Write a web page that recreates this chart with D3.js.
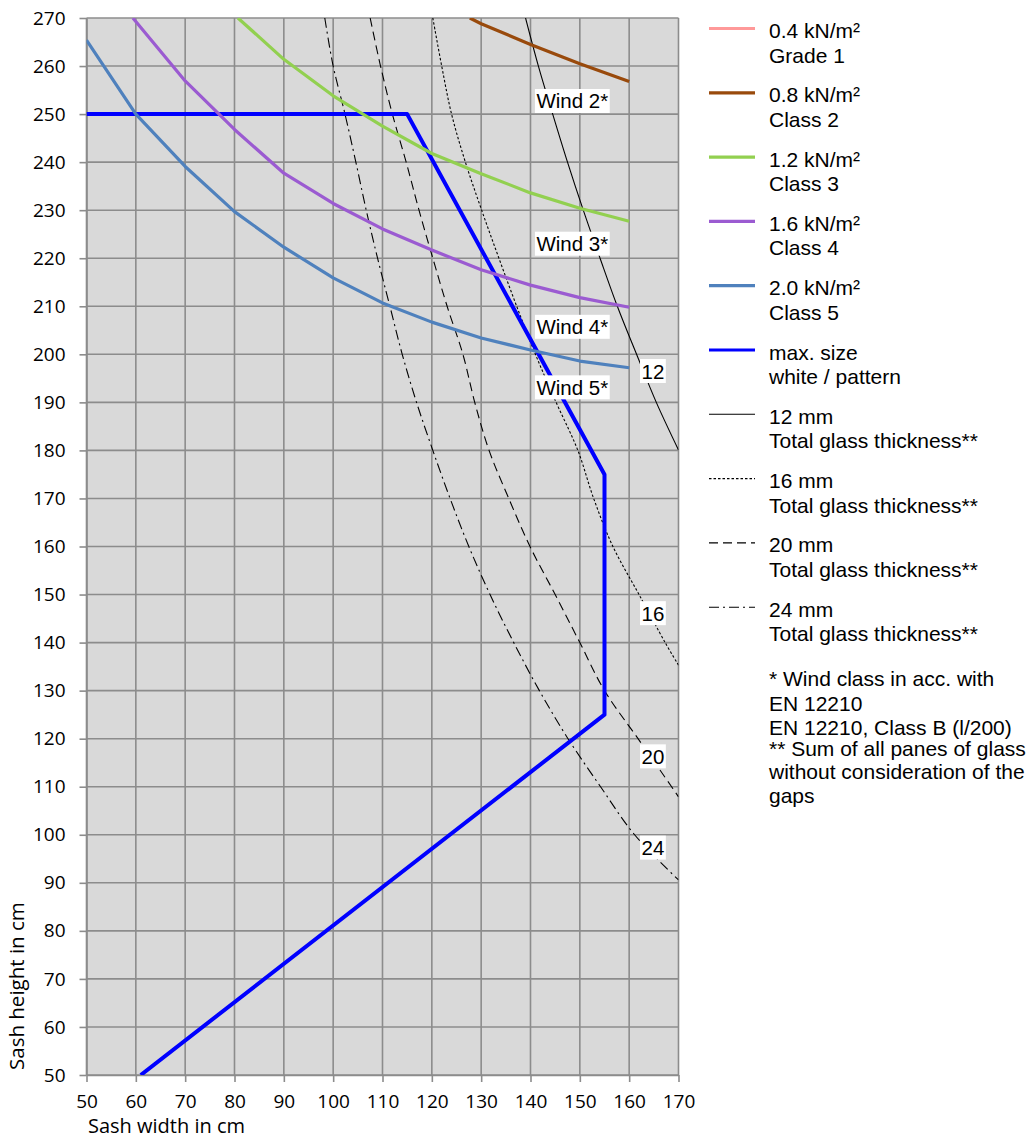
<!DOCTYPE html>
<html><head><meta charset="utf-8">
<script src="https://cdn.jsdelivr.net/npm/d3@7"></script>
<style>body{margin:0;background:#fff}svg{display:block}</style>
</head><body><svg id="c" width="1032" height="1138"></svg>
<script>
// ---------- data ----------
const xTicks = [50,60,70,80,90,100,110,120,130,140,150,160,170];
const yTicks = [50,60,70,80,90,100,110,120,130,140,150,160,170,180,190,200,210,220,230,240,250,260,270];
const xTitle = "Sash width in cm";
const yTitle = "Sash height in cm";

// wind load curves [width, height]
const grade1 = [];  // lies above the plotted range
const class2 = [[127.7,270],[130,268.8],[140,264.5],[150,260.5],[160,256.8]];
const class3 = [[80.7,270],[90,261.4],[100,253.8],[110,247.5],[120,241.8],[130,237.6],[140,233.6],[150,230.4],[160,227.7]];
const class4 = [[59.4,270],[70,256.9],[80,246.8],[90,237.7],[100,231.4],[110,226.1],[120,221.7],[130,217.6],[140,214.4],[150,211.8],[160,209.8]];
const class5 = [[50,265.4],[60,250],[70,239.1],[80,229.7],[90,222.3],[100,215.9],[110,210.7],[120,206.7],[130,203.4],[140,200.9],[150,198.6],[160,197.2]];
const maxSize = [[50,250],[115,250],[155,175],[155,125],[61,50]];

// glass thickness curves [width, height]
const glass12 = [[139,270],[141.6,260],[144.5,250],[147.5,240],[150.7,230],[154.1,220],[157.6,210],[161.5,200],[165.5,190],[170,180.1]];
const glass16 = [[120.2,270],[122,260],[124,250],[126.8,240],[130.1,230],[133.6,220],[137.2,210],[141,200],[145.2,190],[149.6,180],[152.8,170],[156.7,160],[162,150],[167.3,140],[170,135.3]];
const glass20 = [[107.5,270],[109.6,260],[112,250],[114.8,240],[117.4,230],[120.2,220],[123.1,210],[126.3,200],[128.7,190],[131.6,180],[135.6,170],[139.9,160],[145,150],[150,140],[155,130],[161.8,120],[168.6,110],[170,107.9]];
const glass24 = [[98.3,270],[100,260],[102.4,250],[104.6,240],[106.7,230],[109,220],[111.5,210],[114,200],[116.9,190],[120.2,180],[123.7,170],[127.5,160],[131.8,150],[136.6,140],[141.8,130],[147.6,120],[154.2,110],[161.1,100],[170,90.6]];

// annotations [text, width, height]
const windLabels = [["Wind 2*",140.9,252.7],["Wind 3*",140.9,223],["Wind 4*",140.9,205.7],["Wind 5*",140.9,193.1]];
const glassLabels = [["12",162.2,196.5],["16",162.2,146.1],["20",162.2,116.3],["24",162.2,97.3]];

const legendLabels = [
  ["0.4 kN/m²","Grade 1"],["0.8 kN/m²","Class 2"],["1.2 kN/m²","Class 3"],
  ["1.6 kN/m²","Class 4"],["2.0 kN/m²","Class 5"],["max. size","white / pattern"],
  ["12 mm","Total glass thickness**"],["16 mm","Total glass thickness**"],
  ["20 mm","Total glass thickness**"],["24 mm","Total glass thickness**"]
];
const footnotes = ["* Wind class in acc. with","EN 12210","EN 12210, Class B (l/200)","** Sum of all panes of glass","without consideration of the","gaps"];

// ---------- styles ----------
const seriesStyle = [
  {data:grade1, color:"#FF9999", w:3.2, dash:null, curve:d3.curveLinear},
  {data:class2, color:"#994A0C", w:3.2, dash:null, curve:d3.curveLinear},
  {data:class3, color:"#92D050", w:3.2, dash:null, curve:d3.curveLinear},
  {data:class4, color:"#9B5BD1", w:3.2, dash:null, curve:d3.curveLinear},
  {data:class5, color:"#4F81BD", w:3.2, dash:null, curve:d3.curveLinear},
  {data:maxSize, color:"#0000FF", w:4, dash:null, curve:d3.curveLinear},
  {data:glass12, color:"#000", w:1.1, dash:null, curve:d3.curveCatmullRom},
  {data:glass16, color:"#000", w:1.1, dash:"2.5,2", curve:d3.curveCatmullRom},
  {data:glass20, color:"#000", w:1.1, dash:"9,5", curve:d3.curveCatmullRom},
  {data:glass24, color:"#000", w:1.1, dash:"10,4,2,4", curve:d3.curveCatmullRom}
];

// ---------- chart ----------
const svg = d3.select("#c");
const L=86.5, R=678.5, T=18, B=1075;
const x = d3.scaleLinear().domain([50,170]).range([L,R]);
const y = d3.scaleLinear().domain([50,270]).range([B,T]);

svg.append("defs").append("clipPath").attr("id","clip")
  .append("rect").attr("x",L).attr("y",T).attr("width",R-L).attr("height",B-T);

svg.append("rect").attr("x",L).attr("y",T).attr("width",R-L).attr("height",B-T).attr("fill","#D9D9D9");

const grid = svg.append("g").attr("stroke","#8C8C8C").attr("stroke-width",1.6);
grid.selectAll("line.v").data(xTicks).join("line").attr("class","v")
  .attr("x1",d=>x(d)).attr("x2",d=>x(d)).attr("y1",T).attr("y2",B);
grid.selectAll("line.h").data(yTicks).join("line").attr("class","h")
  .attr("y1",d=>y(d)).attr("y2",d=>y(d)).attr("x1",L).attr("x2",R);

const fontAxis = "'Open Sans', sans-serif";
const fontTxt = "'Liberation Sans', Arial, sans-serif";

const ax = svg.append("g").attr("transform",`translate(0,${B})`)
  .call(d3.axisBottom(x).tickValues(xTicks).tickSize(7).tickSizeOuter(0).tickPadding(13));
const ay = svg.append("g").attr("transform",`translate(${L},0)`)
  .call(d3.axisLeft(y).tickValues(yTicks).tickSize(7).tickSizeOuter(0).tickPadding(14));
[ax,ay].forEach(a=>{
  a.selectAll("path,line").attr("stroke","#8C8C8C").attr("stroke-width",1.6);
  a.selectAll("text").attr("font-family",fontAxis).attr("font-size",19).attr("fill","#000");
});

svg.append("text").attr("x",88).attr("y",1133).attr("font-family",fontAxis).attr("font-size",20).text(xTitle);
svg.append("text").attr("transform","translate(24,1070) rotate(-90)").attr("font-family",fontAxis).attr("font-size",20.5).text(yTitle);

const plot = svg.append("g").attr("clip-path","url(#clip)");
seriesStyle.slice().reverse().forEach(s=>{
  if(!s.data.length) return;
  plot.append("path").datum(s.data)
    .attr("d", d3.line().x(d=>x(d[0])).y(d=>y(d[1])).curve(s.curve))
    .attr("fill","none").attr("stroke",s.color).attr("stroke-width",s.w)
    .attr("stroke-dasharray",s.dash).attr("stroke-linejoin","round");
});

function labelBox(list, size){
  list.forEach(([t,wx,hy])=>{
    const g = svg.append("g");
    const tx = g.append("text").attr("x",x(wx)+1.5).attr("y",y(hy)).attr("dy","0.36em")
      .attr("font-family",fontTxt).attr("font-size",size).text(t);
    const bb = tx.node().getBBox();
    g.insert("rect","text").attr("x",bb.x-1.5).attr("y",bb.y-0.5).attr("width",bb.width+3).attr("height",bb.height+1).attr("fill","#fff");
  });
}
labelBox(windLabels, 20.5);
labelBox(glassLabels, 20.5);

// legend
const lg = svg.append("g");
seriesStyle.forEach((s,i)=>{
  const ly = 28.5 + i*64.3;
  lg.append("line").attr("x1",709).attr("x2",755).attr("y1",ly).attr("y2",ly)
    .attr("stroke",s.color).attr("stroke-width",s.w>2?3.2:1.1).attr("stroke-dasharray",s.dash);
  lg.append("text").attr("x",769).attr("y",ly+2).attr("dy","0.36em").attr("font-family",fontTxt).attr("font-size",21).text(legendLabels[i][0]);
  lg.append("text").attr("x",769).attr("y",ly+26.5).attr("dy","0.36em").attr("font-family",fontTxt).attr("font-size",21).text(legendLabels[i][1]);
});
const fnY = [678,703,727,748,771,795];
footnotes.forEach((t,i)=>{
  lg.append("text").attr("x",769).attr("y",fnY[i]).attr("dy","0.36em").attr("font-family",fontTxt).attr("font-size",21).text(t);
});
</script></body></html>
